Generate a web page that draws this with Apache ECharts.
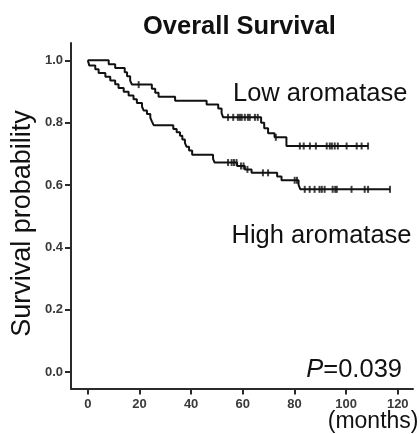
<!DOCTYPE html>
<html>
<head>
<meta charset="utf-8">
<script src="https://cdn.jsdelivr.net/npm/echarts@6/dist/echarts.min.js"></script>
<style>
html,body{margin:0;padding:0;background:#fff;}
#c{width:420px;height:434px;}
</style>
</head>
<body>
<div id="c"></div>
<script>
// ---- data ----
var xTicks = [0, 20, 40, 60, 80, 100, 120];
var yTicks = [0, 0.2, 0.4, 0.6, 0.8, 1.0];

var lowTimes = [0, 8.1, 10.6, 14.3, 15.2, 16.4, 17.1, 24.8, 26.1, 27.4, 33.8, 46.0, 50.5, 51.8, 52.4, 67.1, 68.3, 69.8, 72.3, 76.9, 108.5];
var lowSurv  = [1.0, 0.987, 0.975, 0.962, 0.949, 0.935, 0.922, 0.909, 0.896, 0.883, 0.870, 0.858, 0.845, 0.831, 0.817, 0.800, 0.782, 0.766, 0.753, 0.725, 0.725];
var lowCensor = [19.7, 54.3, 56.3, 58.1, 58.9, 59.6, 60.8, 62.0, 62.7, 64.7, 65.8, 72.8, 82.1, 83.6, 86.0, 88.3, 92.5, 93.7, 94.5, 95.6, 96.8, 100.2, 104.1, 106.0, 108.5];

var highTimes = [0, 0.6, 2.9, 4.2, 6.8, 8.7, 10.6, 11.9, 13.9, 15.8, 17.7, 19.0, 21.0, 21.6, 22.9, 24.2, 24.8, 25.5, 33.1, 34.4, 35.7, 36.6, 37.6, 38.2, 39.2, 40.4, 48.5, 49.1, 57.8, 60.8, 63.4, 73.3, 75.0, 81.6, 82.3, 117.0];
var highSurv  = [1.0, 0.983, 0.971, 0.959, 0.947, 0.935, 0.923, 0.911, 0.899, 0.887, 0.875, 0.863, 0.851, 0.839, 0.828, 0.816, 0.804, 0.792, 0.780, 0.769, 0.758, 0.746, 0.735, 0.723, 0.711, 0.697, 0.684, 0.672, 0.661, 0.650, 0.639, 0.627, 0.615, 0.600, 0.586, 0.586];
var highCensor = [54.3, 55.7, 56.6, 57.6, 59.3, 60.3, 61.8, 67.8, 69.8, 80.1, 81.0, 84.0, 85.9, 87.8, 89.7, 90.6, 91.7, 94.8, 95.8, 96.4, 102.1, 107.2, 108.5, 117.0];

var titleText = 'Overall Survival';
var yName = 'Survival probability';
var xName = '(months)';
var lowLabel = 'Low aromatase';
var highLabel = 'High aromatase';
var pText = '=0.039';

// ---- helpers ----
function pairs(ts, ss) { return ts.map(function (t, i) { return [t, ss[i]]; }); }
function survAt(ts, ss, t) {
  var s = ss[0];
  for (var i = 0; i < ts.length; i++) { if (ts[i] <= t) s = ss[i]; }
  return s;
}
function censorPts(cs, ts, ss) { return cs.map(function (t) { return [t, survAt(ts, ss, t)]; }); }

var FONT = '"Liberation Sans", Arial, Helvetica, sans-serif';
var AX = '#2a2a2a';

var chart = echarts.init(document.getElementById('c'), null, {renderer: 'canvas'});
var option = {
  animation: false,
  backgroundColor: '#fff',
  title: {
    text: titleText, left: 143, top: 14, padding: 0,
    textStyle: {fontFamily: FONT, fontSize: 25.5, fontWeight: 'bold', color: '#111'}
  },
  grid: {left: 71, right: 7, top: 43, bottom: 45.5, containLabel: false},
  xAxis: {
    type: 'value', min: -6.5, max: 125.9,
    splitLine: {show: false},
    axisLine: {show: true, onZero: false, lineStyle: {color: AX, width: 2}},
    axisTick: {show: true, customValues: xTicks, length: 6, lineStyle: {color: AX, width: 2}},
    axisLabel: {show: true, customValues: xTicks, margin: 9, fontFamily: FONT, fontSize: 13, fontWeight: 'bold', color: '#3a3a3a'}
  },
  yAxis: {
    type: 'value', min: -0.0529, max: 1.0555,
    splitLine: {show: false},
    axisLine: {show: true, onZero: false, lineStyle: {color: AX, width: 2}},
    axisTick: {show: true, customValues: yTicks, length: 6, lineStyle: {color: AX, width: 2}},
    axisLabel: {show: true, customValues: yTicks, margin: 8, fontFamily: FONT, fontSize: 13, fontWeight: 'bold', color: '#3a3a3a',
      formatter: function (v) { return v.toFixed(1); }}
  },
  series: [
    {type: 'line', name: lowLabel, step: 'end', showSymbol: false, data: pairs(lowTimes, lowSurv),
      lineStyle: {color: '#111', width: 2}, itemStyle: {color: '#111'}},
    {type: 'line', name: highLabel, step: 'end', showSymbol: false, data: pairs(highTimes, highSurv),
      lineStyle: {color: '#111', width: 2}, itemStyle: {color: '#111'}},
    {type: 'scatter', symbol: 'rect', symbolSize: [2, 7], data: censorPts(lowCensor, lowTimes, lowSurv),
      itemStyle: {color: '#111'}},
    {type: 'scatter', symbol: 'rect', symbolSize: [2, 7], data: censorPts(highCensor, highTimes, highSurv),
      itemStyle: {color: '#111'}}
  ],
  graphic: [
    {type: 'text', x: 23, y: 223.5, rotation: Math.PI / 2,
      style: {text: yName, fontFamily: FONT, fontSize: 27, fill: '#111', align: 'center', verticalAlign: 'middle'}},
    {type: 'text', x: 233, y: 93.5,
      style: {text: lowLabel, fontFamily: FONT, fontSize: 25.5, fill: '#111', align: 'left', verticalAlign: 'middle'}},
    {type: 'text', x: 231.5, y: 236,
      style: {text: highLabel, fontFamily: FONT, fontSize: 25.5, fill: '#111', align: 'left', verticalAlign: 'middle'}},
    {type: 'text', x: 402, y: 370,
      style: {text: '{i|P}' + pText, fontFamily: FONT, fontSize: 25.5, fill: '#111', align: 'right', verticalAlign: 'middle',
        rich: {i: {fontStyle: 'italic', fontFamily: FONT, fontSize: 25.5, fill: '#111'}}}},
    {type: 'text', x: 418.5, y: 422,
      style: {text: xName, fontFamily: FONT, fontSize: 23, fill: '#111', align: 'right', verticalAlign: 'middle'}}
  ]
};
chart.setOption(option);
</script>
</body>
</html>
